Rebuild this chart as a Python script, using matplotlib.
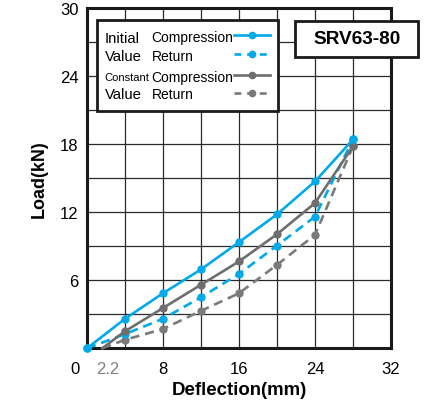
import numpy as np
import matplotlib
matplotlib.use("Agg")
import matplotlib.pyplot as plt
import matplotlib.transforms as mtrans
from matplotlib import font_manager
from matplotlib.patches import Rectangle
from matplotlib.lines import Line2D

# ---- data ----
x_init = [0, 4, 8, 12, 16, 20, 24, 28]
init_comp = [0, 2.6, 4.85, 6.95, 9.35, 11.8, 14.7, 18.4]
init_ret = [0, 1.25, 2.6, 4.5, 6.55, 9.05, 11.6, 18.4]
x_const = [1.6, 4, 8, 12, 16, 20, 24, 28]
const_comp = [0, 1.5, 3.55, 5.6, 7.65, 10.05, 12.8, 17.8]
const_ret = [0, 0.75, 1.7, 3.3, 4.85, 7.35, 10.0, 17.8]

xtick_vals = [0, 2.2, 8, 16, 24, 32]
xtick_labels = ["0", "2.2", "8", "16", "24", "32"]
ytick_vals = [6, 12, 18, 24, 30]
ytick_labels = ["6", "12", "18", "24", "30"]
title_text = "SRV63-80"

BLUE = "#00a9e8"
GREY = "#6e6e6e"
GREY2 = "#7a7a7a"

names = {f.name for f in font_manager.fontManager.ttflist}
REG = "Liberation Sans" if "Liberation Sans" in names else "DejaVu Sans"
plt.rcParams['font.family'] = [REG, "DejaVu Sans"]

W, H = 426, 402
fig = plt.figure(figsize=(W / 100, H / 100), dpi=100)
L, R, T, B = 87, 391, 8.8, 349.3
ax = fig.add_axes([L / W, (H - B) / H, (R - L) / W, (B - T) / H])
ax.set_xlim(0, 32)
ax.set_ylim(0, 30)

ax.xaxis.remove_overlapping_locs = False
ax.yaxis.remove_overlapping_locs = False
ax.set_xticks(np.arange(0, 33, 4), minor=True)
ax.set_yticks(np.arange(0, 31, 3), minor=True)
ax.grid(which="minor", color="#2a2a2a", linewidth=0.9)
ax.grid(which="major", visible=False)
ax.tick_params(which="both", length=0)
ax.set_xticks(xtick_vals)
ax.set_xticklabels(xtick_labels, fontsize=12)
ax.set_yticks(ytick_vals)
ax.set_yticklabels(ytick_labels, fontsize=12)
ax.tick_params(axis="x", pad=9)
ax.tick_params(axis="y", pad=6)
xl = ax.get_xticklabels()
xl[1].set_color("#808080")
xl[0].set_transform(xl[0].get_transform() + mtrans.ScaledTranslation(-12 / 100, 0, fig.dpi_scale_trans))

for s in ax.spines.values():
    s.set_linewidth(2.2)
    s.set_color("#1a1a1a")
    s.set_zorder(3)

ax.set_xlabel("Deflection(mm)", fontsize=13.4, fontweight="bold", labelpad=4)
ax.set_ylabel("Load(kN)", fontsize=13, fontweight="bold", labelpad=9)

ms = 5
ax.plot(x_init, init_comp, color=BLUE, lw=1.9, marker="o", ms=ms, zorder=6, clip_on=False)
ax.plot(x_init, init_ret, color=BLUE, lw=1.9, ls=(0, (3.5, 2.2)), marker="o", ms=ms, zorder=5, clip_on=False)
ax.plot(x_const, const_comp, color=GREY, lw=1.9, marker="o", ms=ms, markevery=list(range(1, len(x_const))), zorder=5, clip_on=False)
ax.plot(x_const, const_ret, color=GREY2, lw=1.9, ls=(0, (3.5, 2.2)), marker="o", ms=ms, markevery=list(range(1, len(x_const))), zorder=4, clip_on=False)

def fx(px):
    return px / W

def fy(py):
    return 1 - py / H

# legend box
fig.patches.append(Rectangle((fx(97), fy(112)), (278 - 97) / W, (112 - 21) / H, transform=fig.transFigure,
                             facecolor="white", edgecolor="#1a1a1a", linewidth=2.0, zorder=10))
# title box
fig.patches.append(Rectangle((fx(295), fy(58)), (418 - 295) / W, (58 - 21.5) / H, transform=fig.transFigure,
                             facecolor="white", edgecolor="#1a1a1a", linewidth=2.0, zorder=10))
fig.text(fx(357), fy(40), title_text, fontsize=13.7, fontweight="bold", ha="center", va="center", zorder=11)

nsize = 10
csize = 8
rows = [
    ("Initial", 10.7, 43, "Compression", 41.7, 36, BLUE, "-"),
    ("Value", 10.7, 60.7, "Return", 60.7, 54.5, BLUE, (0, (2.6, 2.2))),
    ("Constant", csize, 80.7, "Compression", 81.7, 76, GREY, "-"),
    ("Value", 10.7, 99.3, "Return", 99.3, 94, GREY2, (0, (2.6, 2.2))),
]
for lab1, s1, b1, lab2, b2, ly, col, ls in rows:
    fig.text(fx(104.5), fy(b1), lab1, fontsize=s1, ha="left", va="baseline", zorder=11)
    fig.text(fx(151.5), fy(b2), lab2, fontsize=nsize, ha="left", va="baseline", zorder=11)
    fig.lines.append(Line2D([fx(234), fx(270)], [fy(ly), fy(ly)], transform=fig.transFigure, color=col, lw=1.9,
                            ls=ls, zorder=11))
    fig.lines.append(Line2D([fx(252)], [fy(ly)], transform=fig.transFigure, color=col, marker="o", ms=4.5,
                            ls="none", zorder=12))

fig.savefig("out.png", dpi=100)
